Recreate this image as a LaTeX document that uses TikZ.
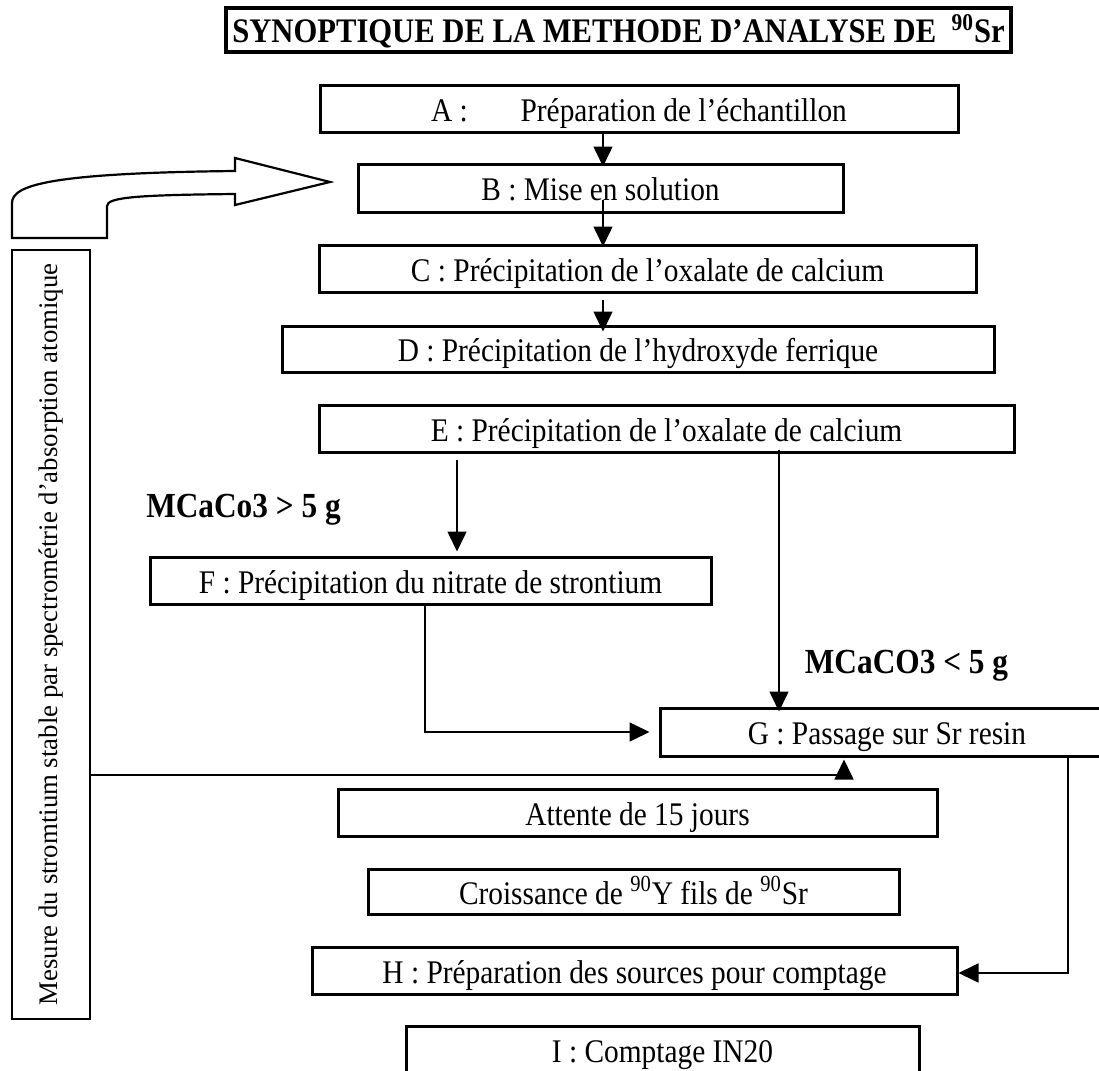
\documentclass[tikz,border=0pt]{standalone}
\usepackage{fontspec}
\setmainfont[FakeStretch=0.89]{Liberation Serif}
\newfontfamily\vfont{Liberation Serif}
\usetikzlibrary{arrows.meta}
\newcommand{\boxfont}{\fontsize{16.5pt}{19pt}\selectfont}
\newcommand{\lblfont}{\fontsize{17.6pt}{20pt}\selectfont\bfseries}
\newcommand{\titlefont}{\fontsize{17.2pt}{20pt}\selectfont\bfseries}
\newcommand{\sidefont}{\vfont\fontsize{13.4pt}{15pt}\selectfont}
\begin{document}
\begin{tikzpicture}[x=0.5pt,y=-0.5pt,
  stepbox/.style={draw, line width=1.5pt, inner sep=0pt, font=\boxfont, text height=15.2pt, text depth=2.6pt},
  titlebox/.style={draw, line width=1.6pt, inner sep=0pt, font=\titlefont, text height=15.5pt, text depth=2.6pt},
  sidebox/.style={draw, line width=1.1pt, inner sep=0pt},
  lbl/.style={inner sep=0pt, font=\lblfont},
  arr/.style={line width=0.8pt, -{Triangle[length=10pt,width=9.5pt]}},
  blockarrow/.style={draw, line width=1.1pt, line join=miter}]
\useasboundingbox (0,0) rectangle (1099,1071);

% title
\node[titlebox, minimum width=392.5pt, minimum height=22pt] (T) at (618.5,30) {SYNOPTIQUE DE LA METHODE D’ANALYSE DE\ \ \textsuperscript{90}Sr};

% steps
\node[stepbox, minimum width=319pt, minimum height=23.5pt] (A) at (639,108.5) {A :\hspace{1.6em}Préparation de l’échantillon};
\node[stepbox, minimum width=242.5pt, minimum height=24pt] (B) at (600.5,188) {B : Mise en solution};
\node[stepbox, minimum width=328.5pt, minimum height=23.5pt] (C) at (647.5,268.5) {C : Précipitation de l’oxalate de calcium};
\node[stepbox, minimum width=356pt, minimum height=23pt] (D) at (638,349) {D : Précipitation de l’hydroxyde ferrique};
\node[stepbox, minimum width=347.5pt, minimum height=23.5pt] (E) at (666.5,428.5) {E : Précipitation de l’oxalate de calcium};
\node[stepbox, minimum width=280.5pt, minimum height=23.5pt] (F) at (430.5,580.5) {F : Précipitation du nitrate de strontium};
\node[stepbox, minimum width=227pt, minimum height=24pt] (G) at (887,732) {G : Passage sur Sr resin};
\node[stepbox, minimum width=299.5pt, minimum height=23.5pt] (W) at (637.5,812.5) {Attente de 15 jours};
\node[stepbox, minimum width=265.5pt, minimum height=22.5pt] (Y) at (633.5,891.5) {Croissance de \textsuperscript{90}Y fils de \textsuperscript{90}Sr};
\node[stepbox, minimum width=322.5pt, minimum height=23.5pt] (H) at (634.5,970.5) {H : Préparation des sources pour comptage};
\node[stepbox, minimum width=256.5pt, minimum height=24pt] (I) at (662.5,1050) {I : Comptage IN20};

% side box with vertical text
\node[sidebox, minimum width=39pt, minimum height=384.5pt] (V) at (51,634.5) {};
\node[rotate=90, font=\sidefont, inner sep=0pt] (VT) at (V.center) {Mesure du stromtium stable par spectrométrie d’absorption atomique};

% condition labels
\node[lbl, anchor=base] (L1) at (243.5,517) {MCaCo3 > 5 g};
\node[lbl, anchor=base] (L2) at (906.5,673) {MCaCO3 < 5 g};

% helper coordinates
\coordinate (xab) at (603,0);
\coordinate (xef) at (457,0);
\coordinate (xeg) at (779,0);
\coordinate (xfg) at (425,0);
\coordinate (xvg) at (844,0);
\coordinate (yvg) at (0,775);
\coordinate (xgh) at (1068,0);
\coordinate (ygh) at (0,973);

% connectors
\draw[arr, shorten >=-2pt] (A.south -| xab) -- (B.north -| xab);
\draw[arr, shorten <=-7pt, shorten >=-1.5pt] (B.south -| xab) -- (C.north -| xab);
\draw[arr, shorten <=3pt, shorten >=-3.5pt] (C.south -| xab) -- (D.north -| xab);
\draw[arr, shorten <=3pt, shorten >=2pt] (E.south -| xef) -- (F.north -| xef);
\draw[arr, shorten <=-2pt, shorten >=-2.5pt] (E.south -| xeg) -- (G.north -| xeg);
\draw[arr, shorten >=4.5pt] (F.south -| xfg) |- (G.west);
\draw[arr, shorten >=1pt] (V.east |- yvg) -| (G.south -| xvg);
\draw[arr] (G.south -| xgh) |- (H.east |- ygh);

% curved block arrow
\path[blockarrow] (12,238) -- (12,203) .. controls (12,185) and (50,173) .. (235,171)
  -- (235,158) -- (330,182) -- (235,205) -- (235,194)
  .. controls (140,195) and (107,197) .. (107,206) -- (107,238) -- cycle;
\end{tikzpicture}
\end{document}
